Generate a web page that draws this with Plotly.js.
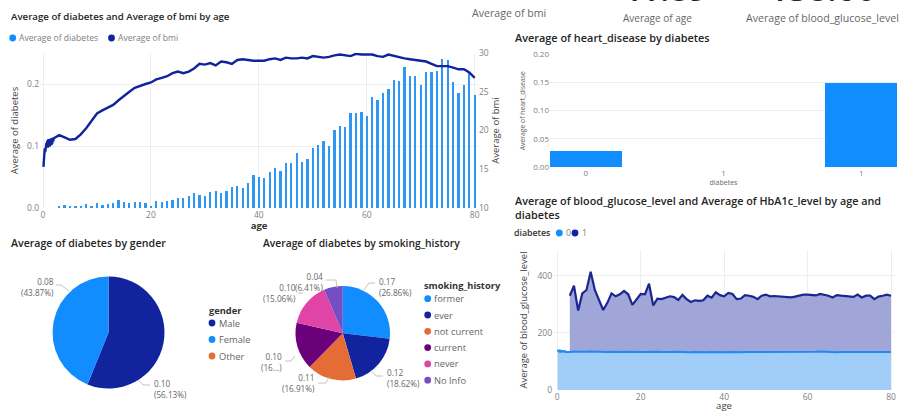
<!DOCTYPE html>
<html>
<head>
<meta charset="utf-8">
<script src="https://cdn.plot.ly/plotly-3.0.1.min.js"></script>
<style>
  html, body { margin: 0; padding: 0; background: #ffffff; overflow: hidden; }
  #dash { width: 903px; height: 412px; }
</style>
</head>
<body>
<div id="dash"></div>
<script>
// ---------- data ----------
// Average BMI by age (infant ages are fractional in the dataset)
const bmiAge = [0.08,0.16,0.24,0.32,0.40,0.48,0.56,0.64,0.72,0.80,0.88,1.00,1.08,1.16,1.24,1.32,1.40,1.48,1.56,1.64,1.72,1.80,1.88,
  2,3,4,5,6,7,8,9,10,11,12,13,14,15,16,17,18,19,20,21,22,23,24,25,26,27,28,29,30,31,32,33,34,35,36,37,38,39,40,
  41,42,43,44,45,46,47,48,49,50,51,52,53,54,55,56,57,58,59,60,61,62,63,64,65,66,67,68,69,70,71,72,73,74,75,76,77,78,79,80];
const bmiAvg = [15.3,17.1,16.6,17.7,17.2,18.1,17.5,18.4,17.9,18.7,17.8,18.9,18.2,18.8,17.9,18.8,18.4,19.0,18.1,18.9,18.3,19.1,18.6,
  19.0,19.4,19.1,18.8,18.9,19.5,20.3,21.3,22.2,22.6,22.9,23.3,23.9,24.5,25.0,25.5,25.8,26.0,26.2,26.6,26.8,27.0,27.4,27.6,27.4,27.6,28.0,28.6,28.5,28.7,28.4,28.9,28.8,28.6,29.1,29.2,29.1,29.0,29.0,
  29.0,29.2,29.3,29.1,29.4,29.3,29.3,29.4,29.3,29.6,29.5,29.4,29.5,29.7,29.8,29.7,29.6,29.9,29.8,29.8,29.8,29.6,29.5,29.8,29.6,29.4,29.3,29.2,29.1,29.0,28.9,28.6,28.3,28.3,28.3,28.1,27.9,27.9,27.5,26.8];

// Average diabetes by age
const diabAge = [3,4,5,6,7,8,9,10,11,12,13,14,15,16,17,18,19,20,21,22,23,24,25,26,27,28,29,30,31,32,33,34,35,36,37,38,39,40,
  41,42,43,44,45,46,47,48,49,50,51,52,53,54,55,56,57,58,59,60,61,62,63,64,65,66,67,68,69,70,71,72,73,74,75,76,77,78,79,80];
const diabAvg = [0.003,0.005,0.003,0.004,0.003,0.006,0.003,0.008,0.005,0.006,
  0.008,0.013,0.009,0.008,0.009,0.010,0.008,0.004,0.012,0.010,
  0.011,0.013,0.016,0.016,0.019,0.024,0.021,0.020,0.026,0.027,
  0.024,0.028,0.034,0.036,0.033,0.040,0.054,0.050,0.048,0.058,
  0.064,0.060,0.072,0.072,0.089,0.074,0.079,0.096,0.101,0.108,
  0.100,0.126,0.133,0.130,0.154,0.153,0.155,0.149,0.179,0.175,
  0.186,0.192,0.206,0.205,0.228,0.213,0.213,0.199,0.220,0.220,
  0.221,0.240,0.239,0.204,0.186,0.199,0.218,0.182];

// Average heart_disease by diabetes
const heartCats = ['0', '1', '1'];
const heartAvg = [0.029, null, 0.149];

// Average blood glucose by age, diabetes = 0
const glucoseAge0 = bmiAge;
const glucose0 = [140,137,135,141,133,138,132,139,136,134,140,131,137,135,139,133,136,138,132,137,135,134,136,
  134,133,135,134,133,134,135,134,133,134,
  133,134,133,132,133,134,133,132,133,133,
  134,133,134,133,132,133,134,133,132,131,
  132,133,132,133,132,133,132,133,132,133,
  132,133,132,133,133,132,133,132,133,133,
  132,133,133,132,133,132,133,134,133,133,
  134,135,134,133,133,132,133,133,132,133,
  132,134,133,132,133,134,133,132,133];

// Average blood glucose by age, diabetes = 1
const glucoseAge1 = diabAge;
const glucose1 = [330,365,278,338,350,414,350,315,280,305,
  338,328,335,347,335,298,315,336,335,372,
  296,320,318,324,328,325,315,333,318,308,
  314,312,314,330,323,342,332,328,340,336,
  318,320,332,330,326,318,330,334,328,329,
  328,328,326,324,327,330,334,334,333,331,
  336,334,330,324,332,330,329,328,326,334,
  324,330,330,318,327,330,334,330];

// Average diabetes by gender
const genderLabels = ['Male', 'Female', 'Other'];
const genderAvg = [0.0975, 0.0762, 0];
const genderColors = ['#12239E', '#118DFF', '#E66C37'];

// Average diabetes by smoking_history
const smokingLabels = ['former', 'ever', 'not current', 'current', 'never', 'No Info'];
const smokingAvg = [0.17, 0.11785, 0.107, 0.10217, 0.09531, 0.04057];
const smokingColors = ['#118DFF', '#12239E', '#E66C37', '#6B007B', '#E044A7', '#744EC2'];

// KPI cards
const cardAge = 41.89;
const cardGlucose = 138.06;

// ---------- helpers ----------
const F = '"Open Sans", "Segoe UI", sans-serif';
const X = p => p / 903;
const Y = p => 1 - p / 412;
const tickF = { family: F, size: 8.5, color: '#808080' };
const GRID = '#eeeeee';
const titleFont = size => ({ family: F, size: size, color: '#252423', weight: 600 });
const legendFont = { family: F, size: 9.3, color: '#666666' };

const ann = [];
const shapes = [];
function text(t, x, y, opts) {
  ann.push(Object.assign({
    text: t, x: X(x), y: Y(y), xref: 'paper', yref: 'paper',
    xanchor: 'left', yanchor: 'middle', showarrow: false,
    font: { family: F, size: 9, color: '#666666' }
  }, opts || {}));
}
function leader(pts) {
  shapes.push({
    type: 'path', xref: 'paper', yref: 'paper',
    path: 'M ' + pts.map(p => X(p[0]) + ',' + Y(p[1])).join(' L '),
    line: { color: '#b5b5b5', width: 0.8 }
  });
}
// round legend swatch, 7px across, centred on (x, y)
function swatch(color, x, y) {
  shapes.push({
    type: 'circle', xref: 'paper', yref: 'paper',
    xsizemode: 'pixel', ysizemode: 'pixel',
    xanchor: X(x), yanchor: Y(y),
    x0: -3.4, x1: 3.4, y0: -3.4, y1: 3.4,
    fillcolor: color, line: { width: 0 }
  });
}
function legendItem(color, label, x, y, font) {
  swatch(color, x, y);
  text(label, x + 4.6, y, { font: font || legendFont });
}

// ---------- traces ----------
const traces = [
  { type: 'bar', x: diabAge, y: diabAvg, xaxis: 'x', yaxis: 'y', width: 0.42,
    marker: { color: '#2E97F4' }, hoverinfo: 'skip' },
  { type: 'scatter', mode: 'lines', x: bmiAge, y: bmiAvg, xaxis: 'x', yaxis: 'y2',
    line: { color: '#12239E', width: 2.4 }, hoverinfo: 'skip' },
  { type: 'bar', x: heartCats.map((c, i) => i), y: heartAvg, xaxis: 'x2', yaxis: 'y3', width: 0.52,
    marker: { color: '#118DFF' }, hoverinfo: 'skip' },
  { type: 'scatter', mode: 'lines', x: glucoseAge1, y: glucose1, xaxis: 'x3', yaxis: 'y4',
    fill: 'tozeroy', fillcolor: '#A0A6D7', line: { color: '#1B2790', width: 2.2 }, hoverinfo: 'skip' },
  { type: 'scatter', mode: 'lines', x: glucoseAge0, y: glucose0, xaxis: 'x3', yaxis: 'y4',
    fill: 'tozeroy', fillcolor: '#A0CEF9', line: { color: '#1E8BF2', width: 2 }, hoverinfo: 'skip' },
  { type: 'pie', labels: genderLabels, values: genderAvg, sort: false, direction: 'clockwise', rotation: 0,
    marker: { colors: genderColors, line: { width: 0 } }, textinfo: 'none', hoverinfo: 'skip',
    domain: { x: [X(52.5), X(164.5)], y: [Y(388.5), Y(276.5)] } },
  { type: 'pie', labels: smokingLabels, values: smokingAvg, sort: false, direction: 'clockwise', rotation: 0,
    marker: { colors: smokingColors, line: { width: 0 } }, textinfo: 'none', hoverinfo: 'skip',
    domain: { x: [X(295.5), X(390)], y: [Y(380.5), Y(286)] } }
];

// ---------- titles, legends and cards ----------
text('Average of diabetes and Average of bmi by age', 9, 17, { font: titleFont(9.7) });
text('Average of heart_disease by diabetes', 513, 38, { font: titleFont(10.9) });
text('Average of blood_glucose_level and Average of HbA1c_level by age and<br>diabetes', 513, 207.5,
  { font: titleFont(10.8), align: 'left' });
text('Average of diabetes by gender', 9, 243, { font: titleFont(10.6) });
text('Average of diabetes by smoking_history', 261, 243, { font: titleFont(10.3) });

const smallLegend = { family: F, size: 8.6, color: '#808080' };
legendItem('#118DFF', 'Average of diabetes', 12.7, 38, smallLegend);
legendItem('#12239E', 'Average of bmi', 111.5, 38, smallLegend);

text('Average of bmi', 470, 13, { font: { family: F, size: 10.6, color: '#666666' } });
text('Average of age', 657, 18, { xanchor: 'center', font: { family: F, size: 10, color: '#666666' } });
text('Average of blood_glucose_level', 822, 18, { xanchor: 'center', font: { family: F, size: 10.6, color: '#666666' } });
// card values sit above the top edge; only the foot of the digits shows
const cardFont = { family: F, size: 34, color: '#252423', weight: 600 };
text(cardAge.toFixed(2), 664, 0, { xanchor: 'center', yanchor: 'bottom', yshift: -13, font: cardFont });
text(cardGlucose.toFixed(2), 822, 0, { xanchor: 'center', yanchor: 'bottom', yshift: -13, font: cardFont });

// gender legend
text('gender', 207, 310, { font: { family: F, size: 9.3, color: '#333333', weight: 700 } });
genderLabels.forEach((l, i) => legendItem(genderColors[i], l, 212, 323 + i * 16.5));

// smoking legend
text('smoking_history', 422, 285, { font: { family: F, size: 9.3, color: '#333333', weight: 700 } });
smokingLabels.forEach((l, i) => legendItem(smokingColors[i], l, 427.7, 298.7 + i * 16.3));

// area chart legend
text('diabetes', 512, 233, { font: { family: F, size: 8.8, color: '#333333', weight: 600 } });
legendItem('#118DFF', '0', 559.3, 233, { family: F, size: 8.8, color: '#808080' });
legendItem('#12239E', '1', 575, 233, { family: F, size: 8.8, color: '#808080' });

// ---------- pie data labels ----------
function pieLabels(values, spots) {
  const total = values.reduce((a, b) => a + b, 0);
  values.forEach((v, i) => {
    const s = spots[i];
    if (!s) return;
    let pct = (v / total * 100).toFixed(2) + '%';
    if (s.cut) pct = pct.slice(0, 2) + '...';
    text(v.toFixed(2) + '<br>(' + pct + ')', s.x, s.y,
      { xanchor: s.a, align: s.a, font: { family: F, size: 8.2, color: '#666666' } });
    leader(s.line);
  });
}
pieLabels(genderAvg, [
  { x: 151.5, y: 389, a: 'left', line: [[138, 380], [143, 385], [150, 385]] },
  { x: 56, y: 287, a: 'right', line: [[56, 285], [61, 285], [69, 291]] },
  null
]);
pieLabels(smokingAvg, [
  { x: 376.5, y: 287, a: 'left', line: [[364, 290], [369, 283], [375, 283]] },
  { x: 385, y: 377.5, a: 'left', line: [[371, 370], [376, 376], [383, 376]] },
  { x: 317, y: 383, a: 'right', line: [[318, 383], [326, 383], [329, 377]] },
  { x: 284, y: 361.5, a: 'right', cut: true, line: [[285, 361], [291, 361], [295, 356]] },
  { x: 297.5, y: 292.5, a: 'right', line: [[298, 293], [303, 293]] },
  { x: 324.5, y: 282, a: 'right', line: [[326, 280], [336, 280], [337, 288]] }
]);

// ---------- layout ----------
const axTitle = (t, size, color, weight) => ({ text: t, font: { family: F, size: size, color: color, weight: weight || 400 } });

const layout = {
  width: 903, height: 412,
  margin: { l: 0, r: 0, t: 0, b: 0 },
  paper_bgcolor: '#ffffff', plot_bgcolor: '#ffffff',
  showlegend: false, bargap: 0,
  font: { family: F },
  xaxis: {
    domain: [X(40), X(478)], range: [-0.56, 80.61], anchor: 'y',
    tickvals: [0, 20, 40, 60, 80], showgrid: true, gridcolor: GRID, zeroline: false, showline: false,
    ticks: '', tickfont: tickF, title: Object.assign(axTitle('age', 9.5, '#333333', 700), { standoff: 3 })
  },
  yaxis: {
    domain: [Y(208), Y(53)], range: [0, 0.25], anchor: 'x',
    tickvals: [0, 0.1, 0.2], tickformat: '.1f', showgrid: true, gridcolor: GRID, zeroline: false,
    ticks: '', tickfont: tickF, title: Object.assign(axTitle('Average of diabetes', 9.5, '#444444'), { standoff: 6 })
  },
  yaxis2: {
    overlaying: 'y', side: 'right', anchor: 'x', range: [10, 30],
    tickvals: [10, 15, 20, 25, 30], showgrid: false, zeroline: false,
    ticks: '', tickfont: tickF, title: Object.assign(axTitle('Average of bmi', 9.5, '#444444'), { standoff: 4 })
  },
  xaxis2: {
    domain: [X(550), X(897)], range: [-0.26, 2.26], anchor: 'y3',
    tickvals: [0, 1, 2], ticktext: heartCats, showgrid: false, zeroline: false,
    ticks: '', tickfont: { family: F, size: 8, color: '#808080' },
    title: Object.assign(axTitle('diabetes', 7, '#666666'), { standoff: 2 })
  },
  yaxis3: {
    domain: [Y(167), Y(54.3)], range: [0, 0.2], anchor: 'x2',
    dtick: 0.05, tickformat: '.2f', showgrid: true, gridcolor: GRID, zeroline: false,
    ticks: '', tickfont: { family: F, size: 8, color: '#808080' },
    title: Object.assign(axTitle('Average of heart_disease', 6.8, '#666666'), { standoff: 6 })
  },
  xaxis3: {
    domain: [X(553), X(895)], range: [-1.03, 80.96], anchor: 'y4',
    tickvals: [0, 20, 40, 60, 80], showgrid: true, gridcolor: GRID, zeroline: false,
    ticks: '', tickfont: tickF, title: Object.assign(axTitle('age', 9.5, '#444444'), { standoff: 6 })
  },
  yaxis4: {
    domain: [Y(390), Y(250)], range: [0, 490], anchor: 'x3',
    tickvals: [0, 200, 400], showgrid: true, gridcolor: GRID, zeroline: false,
    ticks: '', tickfont: tickF, title: Object.assign(axTitle('Average of blood_glucose_level', 9.5, '#444444'), { standoff: 8 })
  },
  annotations: ann,
  shapes: shapes
};

Plotly.newPlot('dash', traces, layout, { staticPlot: true, displayModeBar: false });
</script>
</body>
</html>
